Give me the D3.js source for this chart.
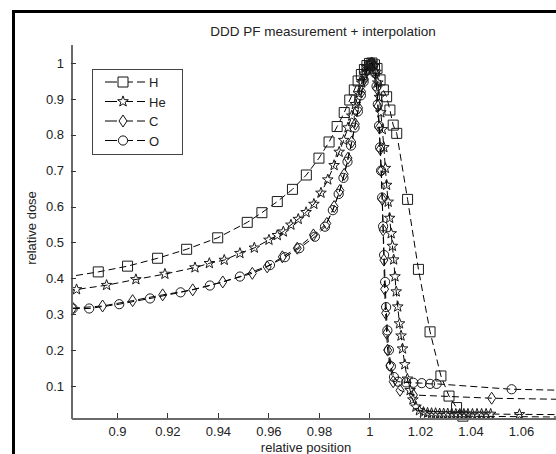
<!DOCTYPE html>
<html>
<head>
<meta charset="utf-8">
<title>DDD PF measurement + interpolation</title>
<script src="https://d3js.org/d3.v7.min.js"></script>
<style>
  body { margin: 0; background: #fff; }
  text { font-family: "Liberation Sans", Arial, sans-serif; fill: #222; }
</style>
</head>
<body>
<div id="chart"></div>
<script>
// measured depth dose curves (relative position, relative dose)
var hX = [0.8795, 0.8926, 0.9042, 0.9161, 0.9276, 0.9399, 0.9516, 0.9574, 0.9635, 0.9695, 0.9750, 0.9800,
          0.9840, 0.9872, 0.9900, 0.9922, 0.9940, 0.9955, 0.9968, 0.9980, 0.9990, 1.0000, 1.0010, 1.0020,
          1.0030, 1.0042, 1.0055, 1.0068, 1.0081, 1.0094, 1.0108, 1.0151, 1.0194, 1.0240, 1.0283, 1.0315,
          1.0345, 1.0370, 1.0850];
var hY = [0.403, 0.418, 0.434, 0.456, 0.481, 0.513, 0.556, 0.583, 0.614, 0.648, 0.688, 0.735,
          0.780, 0.823, 0.862, 0.897, 0.925, 0.950, 0.968, 0.982, 0.993, 0.999, 1.000, 0.995,
          0.985, 0.953, 0.925, 0.906, 0.869, 0.827, 0.804, 0.620, 0.425, 0.251, 0.128, 0.072,
          0.040, 0.016, 0.013];

var heX = [0.8720, 0.8840, 0.8959, 0.9075, 0.9190, 0.9309, 0.9366, 0.9425, 0.9487, 0.9544, 0.9602, 0.9635,
           0.9659, 0.9689, 0.9718, 0.9749, 0.9780, 0.9808, 0.9835, 0.9860, 0.9880, 0.9898, 0.9915, 0.9930,
           0.9944, 0.9957, 0.9969, 0.9980, 0.9990, 1.0000, 1.0010, 1.0018, 1.0026, 1.0033, 1.0039, 1.0045,
           1.0051, 1.0057, 1.0063, 1.0068, 1.0074, 1.0080, 1.0086, 1.0091, 1.0096, 1.0101, 1.0106, 1.0112,
           1.0119, 1.0125, 1.0131, 1.0140, 1.0150, 1.0161, 1.0172, 1.0184, 1.0198, 1.0214, 1.0230, 1.0246,
           1.0262, 1.0278, 1.0294, 1.0310, 1.0326, 1.0342, 1.0358, 1.0374, 1.0390, 1.0408, 1.0426, 1.0444,
           1.0462, 1.0480, 1.0594, 1.0850];
var heY = [0.355, 0.369, 0.381, 0.397, 0.412, 0.430, 0.442, 0.451, 0.470, 0.485, 0.507, 0.520,
           0.530, 0.549, 0.565, 0.584, 0.607, 0.638, 0.675, 0.715, 0.752, 0.785, 0.820, 0.853,
           0.885, 0.915, 0.945, 0.970, 0.988, 0.998, 1.000, 0.993, 0.975, 0.945, 0.905, 0.862,
           0.815, 0.765, 0.707, 0.660, 0.613, 0.568, 0.525, 0.490, 0.452, 0.405, 0.363, 0.321,
           0.274, 0.240, 0.204, 0.160, 0.120, 0.088, 0.062, 0.042, 0.032, 0.027, 0.025, 0.024,
           0.024, 0.023, 0.023, 0.023, 0.023, 0.022, 0.022, 0.022, 0.022, 0.022, 0.022, 0.022,
           0.022, 0.022, 0.021, 0.020];

var cX = [0.8825, 0.8943, 0.9062, 0.9181, 0.9300, 0.9419, 0.9536, 0.9595, 0.9655, 0.9714, 0.9778, 0.9831,
          0.9860, 0.9883, 0.9900, 0.9915, 0.9930, 0.9944, 0.9957, 0.9969, 0.9980, 0.9990, 1.0000, 1.0008,
          1.0016, 1.0023, 1.0029, 1.0034, 1.0039, 1.0043, 1.0047, 1.0051, 1.0054, 1.0057, 1.0060, 1.0064,
          1.0068, 1.0072, 1.0081, 1.0094, 1.0121, 1.0174, 1.0484, 1.0850];
var cY = [0.317, 0.323, 0.338, 0.354, 0.368, 0.390, 0.414, 0.432, 0.460, 0.484, 0.521, 0.553,
          0.600, 0.645, 0.690, 0.735, 0.780, 0.830, 0.875, 0.920, 0.955, 0.980, 0.995, 1.000,
          0.992, 0.970, 0.930, 0.880, 0.820, 0.760, 0.700, 0.620, 0.535, 0.451, 0.370, 0.303,
          0.247, 0.200, 0.158, 0.112, 0.088, 0.075, 0.066, 0.062];

var oX = [0.8825, 0.8890, 0.9009, 0.9131, 0.9252, 0.9368, 0.9487, 0.9606, 0.9665, 0.9722, 0.9784, 0.9824,
          0.9855, 0.9878, 0.9897, 0.9913, 0.9927, 0.9941, 0.9954, 0.9966, 0.9977, 0.9988, 0.9998, 1.0007,
          1.0015, 1.0022, 1.0028, 1.0033, 1.0038, 1.0042, 1.0046, 1.0050, 1.0054, 1.0058, 1.0062, 1.0066,
          1.0071, 1.0077, 1.0085, 1.0097, 1.0114, 1.0145, 1.0174, 1.0207, 1.0240, 1.0266, 1.0563, 1.0850];
var oY = [0.316, 0.316, 0.328, 0.344, 0.361, 0.380, 0.405, 0.437, 0.459, 0.484, 0.516, 0.544,
          0.590, 0.635, 0.680, 0.725, 0.770, 0.820, 0.865, 0.910, 0.948, 0.978, 0.995, 1.000,
          0.993, 0.972, 0.935, 0.885, 0.825, 0.765, 0.700, 0.625, 0.545, 0.465, 0.390, 0.320,
          0.255, 0.200, 0.155, 0.125, 0.112, 0.110, 0.109, 0.108, 0.106, 0.106, 0.091, 0.087];

var seriesNames = ["H", "He", "C", "O"];
var seriesMarkers = ["square", "star", "diamond", "circle"];
var xTicks = [0.9, 0.92, 0.94, 0.96, 0.98, 1, 1.02, 1.04, 1.06];
var yTicks = [0.1, 0.2, 0.3, 0.4, 0.5, 0.6, 0.7, 0.8, 0.9, 1];

var series = [
  {name: seriesNames[0], marker: seriesMarkers[0], x: hX, y: hY},
  {name: seriesNames[1], marker: seriesMarkers[1], x: heX, y: heY},
  {name: seriesNames[2], marker: seriesMarkers[2], x: cX, y: cY},
  {name: seriesNames[3], marker: seriesMarkers[3], x: oX, y: oY}
];

var W = 556, H = 454;

var svg = d3.select("#chart").append("svg")
  .attr("width", W)
  .attr("height", H);

svg.append("rect").attr("width", W).attr("height", H).attr("fill", "#fff");

// outer frame (only top and left edges are inside the crop)
svg.append("path")
  .attr("d", "M13.5,454V11.5H556")
  .attr("fill", "none")
  .attr("stroke", "#000")
  .attr("stroke-width", 3);

var x = d3.scaleLinear().domain([0.8818, 1.0814]).range([71, 575]);
var y = d3.scaleLinear().domain([0.0109, 1.053]).range([418, 44]);

function markerPath(kind) {
  if (kind == "square") return "M-5,-5h10v10h-10Z";
  if (kind == "diamond") return "M0,-6L4,0L0,6L-4,0Z";
  if (kind == "circle") return d3.symbol(d3.symbolCircle, Math.PI * 4.6 * 4.6)();
  // pentagram
  var pts = [];
  for (var i = 0; i < 10; i++) {
    var r = i % 2 == 0 ? 5.6 : 2.3;
    var a = -Math.PI / 2 + i * Math.PI / 5;
    pts.push([r * Math.cos(a), r * Math.sin(a)]);
  }
  return "M" + pts.join("L") + "Z";
}

svg.append("clipPath").attr("id", "plotclip")
  .append("rect").attr("x", 71).attr("y", 36).attr("width", W - 71).attr("height", 386);

var plot = svg.append("g").attr("clip-path", "url(#plotclip)");

var line = d3.line()
  .x(function(d) { return x(d[0]); })
  .y(function(d) { return y(d[1]); });

series.forEach(function(s) {
  var pts = s.x.map(function(v, i) { return [v, s.y[i]]; });
  plot.append("path")
    .datum(pts)
    .attr("fill", "none")
    .attr("stroke", "#000")
    .attr("stroke-width", 1)
    .attr("stroke-dasharray", "7,4")
    .attr("d", line);
  plot.selectAll(null)
    .data(pts)
    .enter().append("path")
    .attr("d", markerPath(s.marker))
    .attr("transform", function(d) { return "translate(" + x(d[0]) + "," + y(d[1]) + ")"; })
    .attr("fill", "none")
    .attr("stroke", "#1a1a1a")
    .attr("stroke-width", 1);
});

// axes, ticks pointing inward
var xAxis = svg.append("g")
  .attr("transform", "translate(0,418)")
  .call(d3.axisBottom(x).tickValues(xTicks).tickSize(-5).tickSizeOuter(0).tickPadding(9)
    .tickFormat(function(d) { return d3.format("")(+d.toFixed(2)); }));
var yAxis = svg.append("g")
  .attr("transform", "translate(71,0)")
  .call(d3.axisLeft(y).tickValues(yTicks).tickSize(-5).tickSizeOuter(0).tickPadding(7)
    .tickFormat(function(d) { return d3.format("")(+d.toFixed(1)); }));

[xAxis, yAxis].forEach(function(a) {
  a.selectAll("line").attr("stroke", "#333").attr("shape-rendering", "crispEdges");
  a.select(".domain").attr("stroke", "#6a6a6a").attr("stroke-width", 2).attr("shape-rendering", "crispEdges");
  a.selectAll("text").style("font-size", "13px").attr("fill", "#222");
});

svg.append("text")
  .attr("x", 323).attr("y", 36)
  .attr("text-anchor", "middle")
  .style("font-size", "13.5px")
  .text("DDD PF measurement + interpolation");

svg.append("text")
  .attr("x", 306).attr("y", 452)
  .attr("text-anchor", "middle")
  .style("font-size", "13px")
  .text("relative position");

svg.append("text")
  .attr("transform", "translate(36,228) rotate(-90)")
  .attr("text-anchor", "middle")
  .style("font-size", "13px")
  .text("relative dose");

// legend
var legend = svg.append("g");
legend.append("rect")
  .attr("x", 92.5).attr("y", 69.5).attr("width", 90).attr("height", 85)
  .attr("fill", "#fff").attr("stroke", "#444");

series.forEach(function(s, i) {
  var ly = 82 + i * 19.5;
  legend.append("line")
    .attr("x1", 105).attr("x2", 145).attr("y1", ly).attr("y2", ly)
    .attr("stroke", "#000").attr("stroke-dasharray", "12,4");
  legend.append("path")
    .attr("d", markerPath(s.marker))
    .attr("transform", "translate(123," + ly + ")")
    .attr("fill", "#fff").attr("stroke", "#111");
  legend.append("text")
    .attr("x", 149).attr("y", ly + 5)
    .style("font-size", "13px")
    .text(s.name);
});
</script>
</body>
</html>
